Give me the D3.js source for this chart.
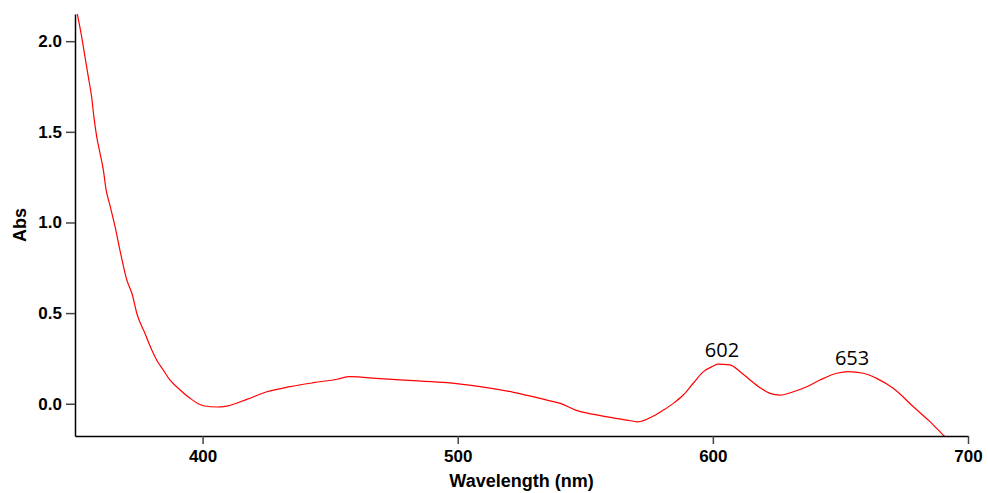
<!DOCTYPE html>
<html>
<head>
<meta charset="utf-8">
<script src="https://cdn.jsdelivr.net/npm/d3@7"></script>
<style>
  html, body { margin: 0; padding: 0; background: #fff; }
  svg { display: block; }
  .tick text { font-family: "Liberation Sans", Arial, sans-serif; font-weight: bold; font-size: 17px; fill: #000; }
  .axis-title { font-family: "Liberation Sans", Arial, sans-serif; font-weight: bold; font-size: 18px; fill: #000; }
  .peak-label { font-family: "Open Sans", "Noto Sans", sans-serif; font-size: 20px; fill: #000; }
</style>
</head>
<body>
<script>
// Absorption spectrum: wavelength (nm) and absorbance
const wavelengths = [350, 350.9, 352.6, 353.9, 355.2, 356.5, 357.4, 358.5, 359.8, 361.1, 362.2, 363.6,
  365.7, 367.6, 370.3, 372.5, 374.2, 377.4, 380.1, 382, 384.6, 387.2, 391.2, 395.1, 400.3, 405.6, 409.5,
  417.3, 425.2, 434.3, 443.5, 452.6, 457.8, 469.6, 482.7, 495.8, 508.8, 521.9, 535, 540.2, 546.2, 553.3,
  566.3, 570.5, 576.7, 580.6, 584.5, 588.4, 592.3, 596.3, 600.2, 602, 606.7, 610.7, 614.6, 618.5, 622.4,
  626.3, 631.5, 636.8, 642, 648.6, 653, 659, 664.2, 670.7, 678.6, 685.1, 691, 694];
const absorbance = [2.22, 2.151, 2.025, 1.915, 1.805, 1.694, 1.584, 1.474, 1.382, 1.29, 1.18, 1.1,
  0.977, 0.848, 0.683, 0.6, 0.499, 0.389, 0.296, 0.241, 0.186, 0.131, 0.076, 0.03, -0.011, -0.018, -0.013,
  0.024, 0.066, 0.094, 0.116, 0.135, 0.149, 0.138, 0.127, 0.116, 0.094, 0.063, 0.02, 0.002, -0.035, -0.059,
  -0.09, -0.1, -0.068, -0.035, 0.002, 0.048, 0.113, 0.177, 0.208, 0.219, 0.214, 0.177, 0.131, 0.088, 0.057,
  0.048, 0.066, 0.094, 0.131, 0.168, 0.177, 0.168, 0.14, 0.085, -0.017, -0.099, -0.182, -0.22];

// Peak annotations (wavelengths in nm)
const peaks = [602, 653];

const xTicks = [400, 500, 600, 700];
const yTicks = [0.0, 0.5, 1.0, 1.5, 2.0];

const width = 988, height = 493;
const margin = { left: 75, right: 20, top: 14, bottom: 57 };

const svg = d3.select("body").append("svg")
  .attr("width", width).attr("height", height);

const x = d3.scaleLinear().domain([350, 700]).range([margin.left, width - margin.right]);
const y = d3.scaleLinear().domain([-0.178, 2.15]).range([height - margin.bottom, margin.top]);

svg.append("defs").append("clipPath").attr("id", "plot-clip")
  .append("rect")
  .attr("x", margin.left).attr("y", margin.top)
  .attr("width", x.range()[1] - margin.left)
  .attr("height", y.range()[0] - margin.top);

// Spectrum line
const data = wavelengths.map((w, i) => ({ w, a: absorbance[i] }));
const line = d3.line().x(d => x(d.w)).y(d => y(d.a)).curve(d3.curveMonotoneX);
svg.append("path")
  .datum(data)
  .attr("clip-path", "url(#plot-clip)")
  .attr("fill", "none")
  .attr("stroke", "#ff0000")
  .attr("stroke-width", 1.2)
  .attr("d", line);

// Axes
const xAxis = svg.append("g")
  .attr("transform", `translate(0,${y.range()[0]})`)
  .call(d3.axisBottom(x).tickValues(xTicks).tickFormat(d3.format("d")).tickSizeInner(8).tickSizeOuter(0).tickPadding(6));
const yAxis = svg.append("g")
  .attr("transform", `translate(${margin.left},0)`)
  .call(d3.axisLeft(y).tickValues(yTicks).tickFormat(d3.format(".1f")).tickSizeInner(9).tickSizeOuter(0).tickPadding(4));

[xAxis, yAxis].forEach(g => {
  g.select(".domain").attr("stroke", "#000").attr("stroke-width", 1.5);
  g.selectAll(".tick line").attr("stroke", "#444").attr("stroke-width", 1.5);
});

// Axis titles
svg.append("text").attr("class", "axis-title")
  .attr("x", (x.range()[0] + x.range()[1]) / 2).attr("y", 486.5)
  .attr("text-anchor", "middle").text("Wavelength (nm)");
svg.append("text").attr("class", "axis-title")
  .attr("transform", `translate(26,${(y.range()[0] + y.range()[1]) / 2}) rotate(-90)`)
  .attr("text-anchor", "middle").text("Abs");

// Peak labels
peaks.forEach(p => {
  const i = wavelengths.indexOf(p);
  svg.append("text").attr("class", "peak-label")
    .attr("x", x(p) + 4).attr("y", y(absorbance[i]) - 7)
    .attr("text-anchor", "middle").text(p);
});
</script>
</body>
</html>
